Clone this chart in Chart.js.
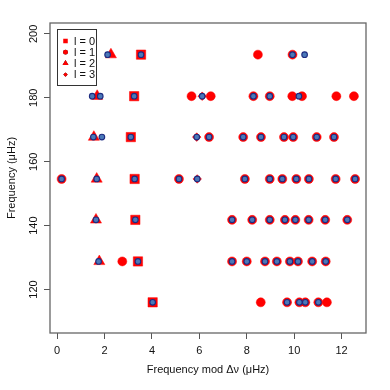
<!DOCTYPE html>
<html>
<head>
<meta charset="utf-8">
<script src="https://cdn.jsdelivr.net/npm/chart.js@4.4.0/dist/chart.umd.min.js"></script>
<style>
  html, body { margin: 0; padding: 0; background: #fff; }
  #wrap { width: 390px; height: 390px; }
</style>
</head>
<body>
<div id="wrap"><canvas id="echelle" width="390" height="390"></canvas></div>
<script>
// tick labels
const xTicks = [0, 2, 4, 6, 8, 10, 12];
const yTicks = [120, 140, 160, 180, 200];
const legendLabels = ["l = 0", "l = 1", "l = 2", "l = 3"];

// observed modes, [frequency mod dnu, frequency]
const obsL0 = [[4.03, 116.0], [3.41, 128.8], [3.30, 141.8], [3.27, 154.6], [3.11, 167.7], [3.25, 180.5], [3.54, 193.5]];
const obsL1 = [
  [8.47, 193.5], [9.93, 193.5],
  [5.67, 180.5], [6.48, 180.5], [8.28, 180.5], [8.97, 180.5], [9.92, 180.5], [10.33, 180.5], [11.78, 180.5], [12.52, 180.5],
  [6.41, 167.7], [7.85, 167.7], [8.60, 167.7], [9.57, 167.7], [9.96, 167.7], [10.95, 167.7], [11.68, 167.7],
  [0.19, 154.6], [5.14, 154.6], [7.92, 154.6], [8.97, 154.6], [9.50, 154.6], [10.09, 154.6], [10.62, 154.6], [11.75, 154.6], [12.57, 154.6],
  [7.38, 141.8], [8.23, 141.8], [8.97, 141.8], [9.61, 141.8], [10.05, 141.8], [10.61, 141.8], [11.31, 141.8], [12.24, 141.8],
  [2.75, 128.8], [7.38, 128.8], [8.00, 128.8], [8.77, 128.8], [9.27, 128.8], [9.82, 128.8], [10.16, 128.8], [10.76, 128.8], [11.33, 128.8],
  [8.59, 116.0], [9.70, 116.0], [10.22, 116.0], [10.47, 116.0], [11.02, 116.0], [11.38, 116.0]
];
const obsL2 = [[1.78, 128.8], [1.64, 141.8], [1.67, 154.6], [1.55, 167.7], [1.69, 180.5], [2.27, 193.5]];
const obsL3 = [[5.91, 154.6], [5.89, 167.7], [6.12, 180.5]];

// model frequencies
const model = [
  [2.13, 193.5], [3.54, 193.5], [9.93, 193.5], [10.44, 193.5],
  [1.48, 180.5], [1.82, 180.5], [3.25, 180.5], [6.12, 180.5], [8.28, 180.5], [8.97, 180.5], [10.20, 180.5],
  [1.53, 167.7], [1.89, 167.7], [3.11, 167.7], [5.89, 167.7], [6.41, 167.7], [7.85, 167.7], [8.60, 167.7], [9.57, 167.7], [9.96, 167.7], [10.95, 167.7], [11.68, 167.7],
  [0.19, 154.6], [1.67, 154.6], [3.27, 154.6], [5.14, 154.6], [5.91, 154.6], [7.92, 154.6], [8.97, 154.6], [9.50, 154.6], [10.09, 154.6], [10.62, 154.6], [11.75, 154.6], [12.57, 154.6],
  [1.64, 141.8], [3.30, 141.8], [7.38, 141.8], [8.23, 141.8], [8.97, 141.8], [9.61, 141.8], [10.05, 141.8], [10.61, 141.8], [11.31, 141.8], [12.24, 141.8],
  [1.75, 128.8], [3.41, 128.8], [7.38, 128.8], [8.00, 128.8], [8.77, 128.8], [9.27, 128.8], [9.82, 128.8], [10.16, 128.8], [10.76, 128.8], [11.33, 128.8],
  [4.03, 116.0], [9.70, 116.0], [10.22, 116.0], [10.47, 116.0], [11.02, 116.0]
];

const RED = "#ff0000";
const FONT = "'Liberation Sans', Arial, sans-serif";
const toPts = (arr) => arr.map(([x, y]) => ({ x, y }));

const redSet = (data, style, radius) => ({
  data: toPts(data),
  order: 1,
  pointStyle: style,
  pointRadius: radius,
  backgroundColor: RED,
  borderColor: RED,
  borderWidth: 0.5,
});

// box, rotated y labels and legend like the R plot
const rStyle = {
  id: "rStyle",
  afterDraw(chart) {
    const { ctx, chartArea: a } = chart;
    const yScale = chart.scales.y;
    ctx.save();
    ctx.strokeStyle = "#666";
    ctx.lineWidth = 1.3;
    ctx.strokeRect(a.left, a.top, a.right - a.left, a.bottom - a.top);

    ctx.fillStyle = "#111";
    ctx.font = "11px " + FONT;
    ctx.textAlign = "center";
    ctx.textBaseline = "middle";
    yTicks.forEach((v) => {
      ctx.save();
      ctx.translate(a.left - 16, yScale.getPixelForValue(v));
      ctx.rotate(-Math.PI / 2);
      ctx.fillText(String(v), 0, 0);
      ctx.restore();
    });

    // legend
    const bx = a.left + 7, by = a.top + 6;
    ctx.fillStyle = "#fff";
    ctx.fillRect(bx, by, 39, 56);
    ctx.strokeStyle = "#333";
    ctx.lineWidth = 1;
    ctx.strokeRect(bx + 0.5, by + 0.5, 39, 56);
    const styles = [["rect", 3.2], ["circle", 2.4], ["triangle", 3.4], ["rectRot", 2.2]];
    ctx.textAlign = "left";
    legendLabels.forEach((lab, i) => {
      const yy = by + 12 + i * 11.2;
      Chart.helpers.drawPoint(ctx, {
        pointStyle: styles[i][0], radius: styles[i][1], rotation: 0, borderWidth: 0
      }, bx + 8.5, yy);
      ctx.fillStyle = RED;
      ctx.fill();
      ctx.fillStyle = "#111";
      ctx.fillText(lab, bx + 17, yy + 0.5);
    });
    ctx.restore();
  }
};

new Chart(document.getElementById("echelle").getContext("2d"), {
  type: "scatter",
  data: {
    datasets: [
      redSet(obsL0, "rect", 6.6),
      redSet(obsL1, "circle", 4.5),
      redSet(obsL2, "triangle", 6.4),
      redSet(obsL3, "rectRot", 4.3),
      {
        data: toPts(model),
        order: 0,
        pointStyle: "circle",
        pointRadius: 2.8,
        backgroundColor: "#4a78b8",
        borderColor: "#1d2b80",
        borderWidth: 1.1,
      },
    ],
  },
  options: {
    responsive: false,
    animation: false,
    devicePixelRatio: 1,
    layout: { padding: { top: 23, right: 24, left: 0, bottom: 0 } },
    plugins: { legend: { display: false }, tooltip: { enabled: false } },
    scales: {
      x: {
        type: "linear",
        min: -0.3,
        max: 13.03,
        afterBuildTicks: (s) => { s.ticks = xTicks.map((v) => ({ value: v })); },
        afterFit: (s) => { s.height = 57; },
        border: { display: false },
        grid: { drawOnChartArea: false, color: "#555", tickLength: 6 },
        ticks: { color: "#111", font: { family: FONT, size: 11 }, padding: 5, maxRotation: 0 },
        title: {
          display: true,
          text: "Frequency mod \u0394\u03bd (\u03bcHz)",
          color: "#111",
          font: { family: FONT, size: 11 },
          padding: { top: 4, bottom: 13 },
        },
      },
      y: {
        type: "linear",
        min: 106.4,
        max: 203.4,
        afterBuildTicks: (s) => { s.ticks = yTicks.map((v) => ({ value: v })); },
        afterFit: (s) => { s.width = 50; },
        border: { display: false },
        grid: { drawOnChartArea: false, color: "#555", tickLength: 6 },
        ticks: { display: false },
        title: {
          display: true,
          text: "Frequency (\u03bcHz)",
          color: "#111",
          font: { family: FONT, size: 11 },
          padding: { top: 5, bottom: 0 },
        },
      },
    },
  },
  plugins: [rStyle],
});
</script>
</body>
</html>
